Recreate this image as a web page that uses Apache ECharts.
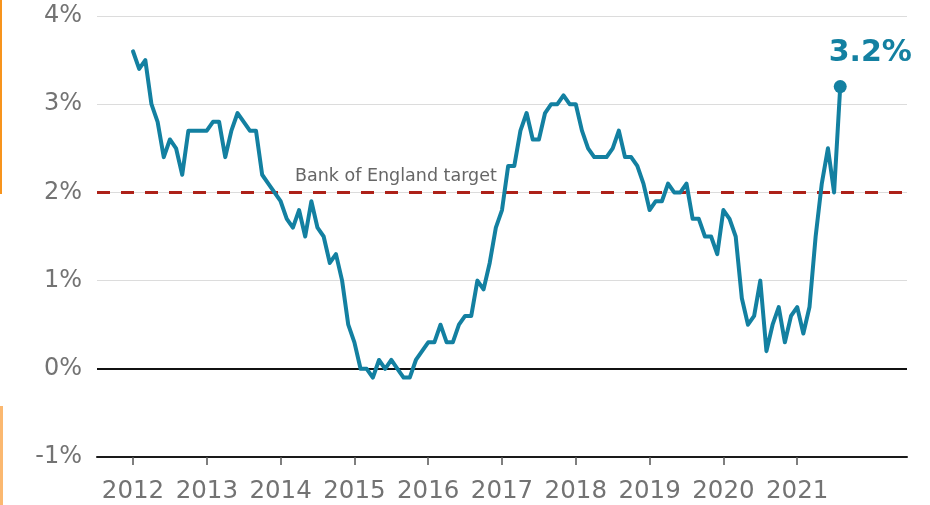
<!DOCTYPE html>
<html>
<head>
<meta charset="utf-8">
<title>UK inflation</title>
<script src="https://cdn.jsdelivr.net/npm/echarts@6/dist/echarts.min.js"></script>
<style>
  html, body { margin: 0; padding: 0; background: #fff; }
  #chart { width: 930px; height: 505px; }
</style>
</head>
<body>
<div id="chart"></div>
<script>
// Consumer price inflation, 12-month rate (%), one value per month from January
const cpi2012 = [3.6, 3.4, 3.5, 3.0, 2.8, 2.4, 2.6, 2.5, 2.2, 2.7, 2.7, 2.7];
const cpi2013 = [2.7, 2.8, 2.8, 2.4, 2.7, 2.9, 2.8, 2.7, 2.7, 2.2, 2.1, 2.0];
const cpi2014 = [1.9, 1.7, 1.6, 1.8, 1.5, 1.9, 1.6, 1.5, 1.2, 1.3, 1.0, 0.5];
const cpi2015 = [0.3, 0.0, 0.0, -0.1, 0.1, 0.0, 0.1, 0.0, -0.1, -0.1, 0.1, 0.2];
const cpi2016 = [0.3, 0.3, 0.5, 0.3, 0.3, 0.5, 0.6, 0.6, 1.0, 0.9, 1.2, 1.6];
const cpi2017 = [1.8, 2.3, 2.3, 2.7, 2.9, 2.6, 2.6, 2.9, 3.0, 3.0, 3.1, 3.0];
const cpi2018 = [3.0, 2.7, 2.5, 2.4, 2.4, 2.4, 2.5, 2.7, 2.4, 2.4, 2.3, 2.1];
const cpi2019 = [1.8, 1.9, 1.9, 2.1, 2.0, 2.0, 2.1, 1.7, 1.7, 1.5, 1.5, 1.3];
const cpi2020 = [1.8, 1.7, 1.5, 0.8, 0.5, 0.6, 1.0, 0.2, 0.5, 0.7, 0.3, 0.6];
const cpi2021 = [0.7, 0.4, 0.7, 1.5, 2.1, 2.5, 2.0, 3.2];

const yearSeries = [cpi2012, cpi2013, cpi2014, cpi2015, cpi2016,
                    cpi2017, cpi2018, cpi2019, cpi2020, cpi2021];
const firstYear = 2012;

// Tick labels
const tickYears = [2012, 2013, 2014, 2015, 2016, 2017, 2018, 2019, 2020, 2021];

const targetRate = 2;
const targetLabel = 'Bank of England target';

// Turn the yearly arrays into [fractional year, rate] points
const points = [];
yearSeries.forEach((vals, yi) => {
  vals.forEach((v, m) => points.push([firstYear + yi + m / 12, v]));
});
const lastPoint = points[points.length - 1];

const teal = '#1380A1';
const grey = '#737373';

const chart = echarts.init(document.getElementById('chart'), null, { renderer: 'canvas' });

chart.setOption({
  animation: false,
  backgroundColor: '#ffffff',
  grid: { left: 97, right: 23, top: 16, bottom: 48, containLabel: false },
  xAxis: {
    type: 'value',
    min: 2011.512,
    max: 2022.488,
    axisLine: { show: true, onZero: false, lineStyle: { color: '#1a1a1a', width: 2 } },
    axisTick: {
      show: true, length: 8, customValues: tickYears,
      lineStyle: { color: '#555', width: 1.5 }
    },
    axisLabel: {
      customValues: tickYears,
      formatter: v => String(v),
      color: grey,
      fontFamily: 'DejaVu Sans',
      fontSize: 24.5,
      margin: 22
    },
    splitLine: { show: false }
  },
  yAxis: {
    type: 'value',
    min: -1,
    max: 4,
    interval: 1,
    axisLine: { show: false },
    axisTick: { show: false },
    axisLabel: {
      formatter: '{value}%',
      color: grey,
      fontFamily: 'DejaVu Sans',
      fontSize: 24,
      margin: 15
    },
    splitLine: { show: true, lineStyle: { color: '#dcdcdc', width: 1 } }
  },
  series: [
    {
      // reference lines: zero and the 2% target
      type: 'line',
      data: [],
      z: 1,
      silent: true,
      markLine: {
        silent: true,
        symbol: 'none',
        z: 1,
        label: { show: false },
        data: [
          { yAxis: 0, lineStyle: { color: '#111', width: 2, type: 'solid' } },
          { yAxis: targetRate, lineStyle: { color: '#ad2118', width: 3, type: [13, 11] } }
        ]
      }
    },
    {
      type: 'line',
      data: points,
      z: 10,
      showSymbol: false,
      symbol: 'none',
      lineStyle: { color: teal, width: 4, join: 'round', cap: 'round' },
      silent: true
    },
    {
      type: 'scatter',
      data: [lastPoint],
      z: 11,
      symbol: 'circle',
      symbolSize: 13,
      itemStyle: { color: teal, opacity: 1 },
      label: {
        show: true,
        position: 'top',
        distance: 12,
        offset: [30, 0],
        formatter: p => p.value[1].toFixed(1) + '%',
        color: teal,
        opacity: 1,
        fontFamily: 'DejaVu Sans',
        fontWeight: 'bold',
        fontSize: 30
      },
      silent: true
    }
  ],
  graphic: [
    {
      type: 'text',
      x: 295,
      y: 176,
      z: 20,
      style: {
        text: targetLabel,
        fill: '#666',
        font: '17.5px "DejaVu Sans"',
        verticalAlign: 'middle'
      }
    },
    { type: 'rect', shape: { x: 0, y: 0, width: 2, height: 194 }, style: { fill: '#f7941d' } },
    { type: 'rect', shape: { x: 0, y: 406, width: 3, height: 99 }, style: { fill: '#fbb870' } }
  ]
});
</script>
</body>
</html>
